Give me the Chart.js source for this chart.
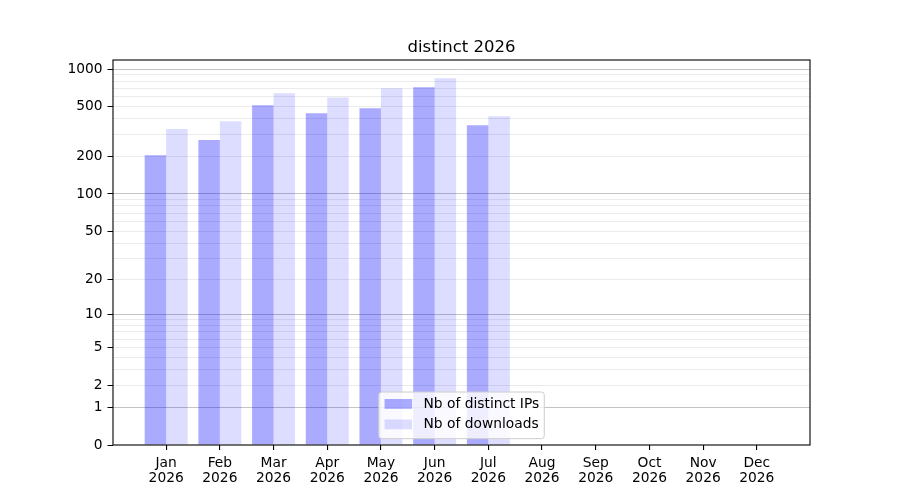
<!DOCTYPE html>
<html>
<head>
<meta charset="utf-8">
<script src="https://cdn.jsdelivr.net/npm/chart.js@4.4.1/dist/chart.umd.min.js"></script>
<style>
  html, body { margin: 0; padding: 0; background: #ffffff; }
  #wrap { width: 900px; height: 500px; }
</style>
</head>
<body>
<div id="wrap"><canvas id="c" width="900" height="500"></canvas></div>
<script>
// ---- data ----
const months = ['Jan', 'Feb', 'Mar', 'Apr', 'May', 'Jun', 'Jul', 'Aug', 'Sep', 'Oct', 'Nov', 'Dec'];
const yearLabel = '2026';
const titleText = 'distinct 2026';
const seriesNames = ['Nb of distinct IPs', 'Nb of downloads'];
const distinctIPs = [205, 271, 516, 445, 488, 719, 357, 0, 0, 0, 0, 0];
const downloads = [332, 384, 643, 595, 706, 848, 421, 0, 0, 0, 0, 0];
const yLabeledTicks = [0, 1, 2, 5, 10, 20, 50, 100, 200, 500, 1000];
const yMajorGrid = [1, 10, 100, 1000];
const yMinorGrid = [3, 4, 6, 7, 8, 9, 30, 40, 60, 70, 80, 90, 300, 400, 600, 700, 800, 900];

const FONT = 'DejaVu Sans';

// ---- custom log(1+x) scale ----
class Log1pScale extends Chart.LinearScale {
  buildTicks() {
    const all = yLabeledTicks.concat(yMinorGrid).sort((a, b) => a - b);
    return all.map(v => ({ value: v }));
  }
  configure() {
    super.configure();
    this._tStart = Math.log10(1 + this.min);
    this._tRange = Math.log10(1 + this.max) - this._tStart;
  }
  getPixelForValue(value) {
    if (value === null || value === undefined || isNaN(value)) return NaN;
    return this.getPixelForDecimal((Math.log10(1 + value) - this._tStart) / this._tRange);
  }
  getValueForPixel(pixel) {
    const d = this.getDecimalForPixel(pixel);
    return Math.pow(10, this._tStart + d * this._tRange) - 1;
  }
}
Log1pScale.id = 'log1p';
Log1pScale.defaults = Chart.LinearScale.defaults;
Chart.register(Log1pScale);

// ---- legend + frame plugin ----
const framePlugin = {
  id: 'framePlugin',
  afterDraw(chart) {
    const { ctx, chartArea: a } = chart;
    ctx.save();
    // frame (spines)
    ctx.strokeStyle = '#000000';
    ctx.lineWidth = 1.1;
    ctx.strokeRect(a.left, a.top, a.right - a.left, a.bottom - a.top);
    // legend
    const cx = (a.left + a.right) / 2;
    const w = 165.5, h = 46.7;
    const x0 = cx - w / 2, y1 = a.bottom - 6.3, y0 = y1 - h;
    const r = 3;
    ctx.beginPath();
    ctx.moveTo(x0 + r, y0);
    ctx.lineTo(x0 + w - r, y0);
    ctx.quadraticCurveTo(x0 + w, y0, x0 + w, y0 + r);
    ctx.lineTo(x0 + w, y0 + h - r);
    ctx.quadraticCurveTo(x0 + w, y0 + h, x0 + w - r, y0 + h);
    ctx.lineTo(x0 + r, y0 + h);
    ctx.quadraticCurveTo(x0, y0 + h, x0, y0 + h - r);
    ctx.lineTo(x0, y0 + r);
    ctx.quadraticCurveTo(x0, y0, x0 + r, y0);
    ctx.closePath();
    ctx.fillStyle = 'rgba(255,255,255,0.8)';
    ctx.fill();
    ctx.strokeStyle = '#cccccc';
    ctx.lineWidth = 1;
    ctx.stroke();
    ctx.font = '13.8px "' + FONT + '"';
    ctx.textBaseline = 'middle';
    ctx.textAlign = 'left';
    chart.data.datasets.forEach((ds, i) => {
      const rowC = y0 + 11.9 + i * 20.5;
      ctx.fillStyle = ds.backgroundColor;
      ctx.fillRect(x0 + 5.8, rowC - 4.9, 27.6, 9.8);
      ctx.fillStyle = '#000000';
      ctx.fillText(ds.label, x0 + 44.8, rowC + 0.5);
    });
    ctx.restore();
  }
};

const tickFont = { family: FONT, size: 13.8, lineHeight: 1.15 };

new Chart(document.getElementById('c'), {
  type: 'bar',
  data: {
    datasets: [
      {
        label: seriesNames[0],
        data: months.map((m, i) => ({ x: i, y: distinctIPs[i] })),
        backgroundColor: 'rgba(0,0,255,0.333)',
        borderWidth: 0,
        categoryPercentage: 0.8,
        barPercentage: 1.0
      },
      {
        label: seriesNames[1],
        data: months.map((m, i) => ({ x: i, y: downloads[i] })),
        backgroundColor: 'rgba(0,0,255,0.133)',
        borderWidth: 0,
        categoryPercentage: 0.8,
        barPercentage: 1.0
      }
    ]
  },
  options: {
    responsive: false,
    animation: false,
    devicePixelRatio: 1,
    layout: { padding: { left: 0, right: 90, top: 0, bottom: 0 } },
    plugins: {
      legend: { display: false },
      tooltip: { enabled: false },
      title: {
        display: true,
        text: titleText,
        fullSize: false,
        color: '#000000',
        font: { family: FONT, size: 16.5, weight: 'normal', lineHeight: 1.2 },
        padding: { top: 37.6, bottom: 2.6 }
      }
    },
    scales: {
      x: {
        type: 'linear',
        min: -0.99,
        max: 11.99,
        offset: false,
        border: { display: false },
        grid: { display: true, offset: false, drawOnChartArea: false, drawTicks: true, tickLength: 5, tickColor: '#000000', lineWidth: 1.1 },
        afterBuildTicks(scale) { scale.ticks = months.map((m, i) => ({ value: i })); },
        afterFit(scale) { scale.height = 55; },
        ticks: {
          autoSkip: false,
          maxRotation: 0,
          minRotation: 0,
          padding: 5,
          color: '#000000',
          font: tickFont,
          callback: (v, i) => [months[i], yearLabel]
        }
      },
      y: {
        type: 'log1p',
        min: 0,
        max: 1185,
        border: { display: false },
        grid: {
          drawTicks: true,
          tickLength: 5.5,
          lineWidth: 1,
          color: (ctx) => {
            const v = ctx.tick ? ctx.tick.value : null;
            if (v === 0) return 'rgba(0,0,0,0)';
            return yMajorGrid.includes(v) ? '#c4c4c4' : '#ebebeb';
          },
          tickColor: (ctx) => {
            const v = ctx.tick ? ctx.tick.value : null;
            return yLabeledTicks.includes(v) ? '#000000' : 'rgba(0,0,0,0)';
          }
        },
        afterFit(scale) { scale.width = 113; },
        ticks: {
          autoSkip: false,
          padding: 5,
          color: '#000000',
          font: tickFont,
          callback: (v) => yLabeledTicks.includes(v) ? String(v) : ''
        }
      }
    }
  },
  plugins: [framePlugin]
});
</script>
</body>
</html>
